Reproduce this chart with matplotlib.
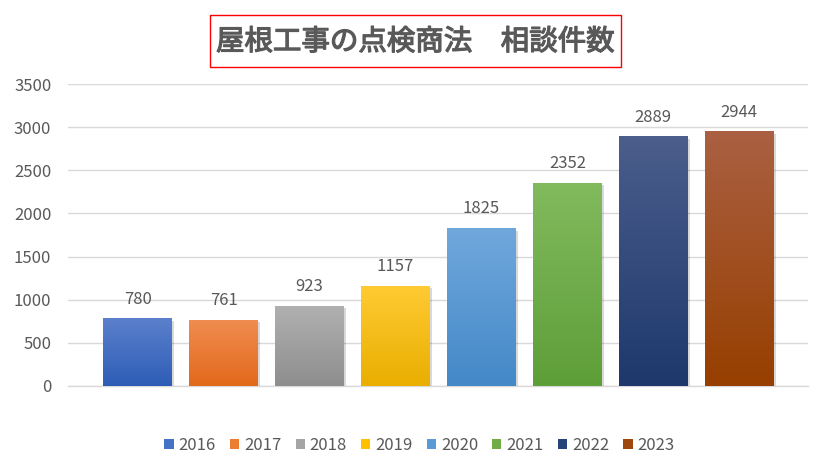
import numpy as np
import matplotlib
matplotlib.use("Agg")
import matplotlib.pyplot as plt
from matplotlib.patches import Patch, Rectangle
from matplotlib import patheffects as pe
from matplotlib.colors import to_rgb

plt.rcParams['font.family'] = ['Noto Sans CJK JP', 'DejaVu Sans']

title = "屋根工事の点検商法　相談件数"
years = ["2016", "2017", "2018", "2019", "2020", "2021", "2022", "2023"]
counts = [780, 761, 923, 1157, 1825, 2352, 2889, 2944]
top_colors = ["#5B80CC", "#F08C50", "#B0B0B0", "#FFCB33", "#70A8DC", "#82BA5E", "#4B5E8C", "#AA6042"]
bottom_colors = ["#2E5DB6", "#E2691A", "#8E8E8E", "#E9AE00", "#4488C8", "#5E9E38", "#1E386C", "#973F00"]
legend_colors = ["#4472C4", "#ED7D31", "#A5A5A5", "#FFC000", "#5B9BD5", "#70AD47", "#264478", "#9E480E"]
yticks = [0, 500, 1000, 1500, 2000, 2500, 3000, 3500]

text_color = "#595959"
grid_color = "#D9D9D9"
W, H = 827, 472

fig = plt.figure(figsize=(8.27, 4.72), dpi=100)
ax = fig.add_axes([68/W, 1-386/H, (808-68)/W, (386-84)/H])

x = np.arange(len(years))
width = 0.80
bars = ax.bar(x, counts, width=width, color=legend_colors, zorder=2,
              path_effects=[pe.SimplePatchShadow(offset=(1.5, -1.5), alpha=0.15, shadow_rgbFace="#000000"), pe.Normal()])

for rect, tc, bc in zip(bars, top_colors, bottom_colors):
    x0 = rect.get_x(); w = rect.get_width(); h = rect.get_height()
    t = np.linspace(0, 1, 256)[:, None]
    top = np.array(to_rgb(tc)); bot = np.array(to_rgb(bc))
    grad = (top[None, :] * (1 - t) + bot[None, :] * t)[:, None, :]
    ax.imshow(grad, extent=[x0, x0 + w, 0, h], aspect='auto', zorder=3, interpolation='bilinear')

for xi, v in zip(x, counts):
    ax.annotate(f"{v}", (xi, v), xytext=(0, 8), textcoords='offset points',
                ha='center', va='bottom', fontsize=12, color=text_color, zorder=5)

ax.set_xlim(-0.81, 7.8)
ax.set_ylim(0, 3500)
ax.set_yticks(yticks)
ax.set_yticklabels([str(v) for v in yticks])
ax.set_xticks([])
ax.tick_params(axis='y', length=0, labelsize=12, labelcolor=text_color, pad=12)
ax.grid(axis='y', color=grid_color, linewidth=1, zorder=0)
ax.set_axisbelow(True)
for s in ['top', 'right', 'left']:
    ax.spines[s].set_visible(False)
ax.spines['bottom'].set_color(grid_color)
ax.spines['bottom'].set_linewidth(1)

handles = [Patch(facecolor=c, edgecolor='none') for c in legend_colors]
fig.legend(handles, years, loc='center', bbox_to_anchor=(0.5 + 6/W, 1-445/H), ncol=8,
           frameon=False, fontsize=12, labelcolor=text_color, handlelength=0.55,
           handleheight=0.55, handletextpad=0.3, columnspacing=0.85)

fig.patches.append(Rectangle((210/W, 1-67/H), (621-210)/W, (67-15)/H, transform=fig.transFigure,
                             facecolor='white', edgecolor='#FF0000', linewidth=1, zorder=1))
fig.text(415.5/W, 1-42/H, title, ha='center', va='center', fontsize=20.5,
         color=text_color, zorder=2,
         path_effects=[pe.Stroke(linewidth=0.9, foreground=text_color), pe.Normal()])

fig.savefig("out.png", dpi=100, facecolor='white')
